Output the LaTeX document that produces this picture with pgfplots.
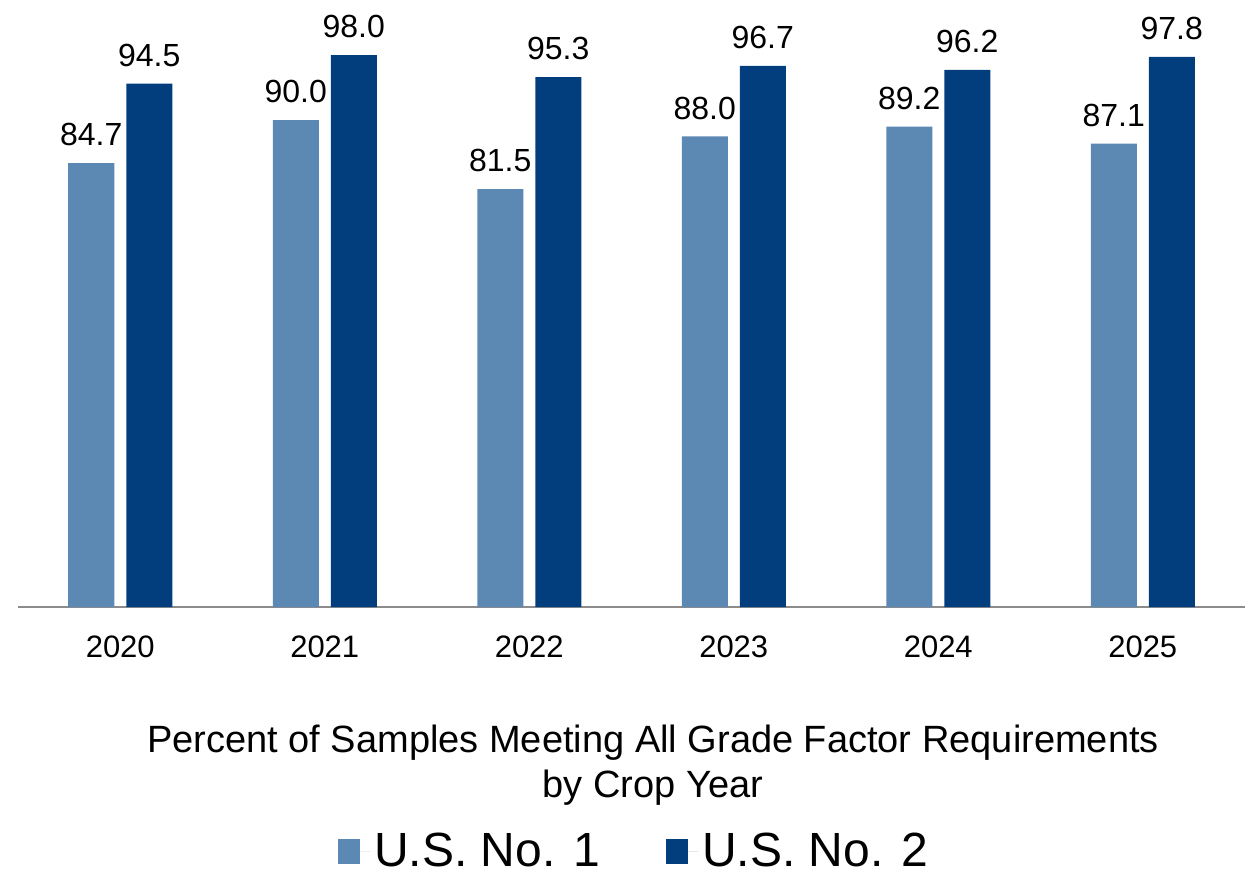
\documentclass[border=0pt]{standalone}
\usepackage{fontspec}
\setmainfont{Liberation Sans}
\usepackage{pgfplots}
\pgfplotsset{compat=1.18}
\definecolor{usone}{HTML}{5B89B4}
\definecolor{ustwo}{HTML}{023E7D}
\definecolor{axisgray}{HTML}{8C8C8C}

\begin{document}
\begin{tikzpicture}
\useasboundingbox (0,0) rectangle (622.5pt,437.5pt);
\begin{axis}[
    scale only axis,
    width=613.5pt, height=284pt,
    at={(9pt,134pt)}, anchor=south west,
    ybar=6pt, bar width=23pt,
    xmin=-0.5, xmax=5.5, ymin=30, ymax=100,
    axis x line*=bottom, axis y line=none,
    x axis line style={axisgray, line width=1pt, -},
    xtick={0,...,5},
    xticklabels={2020,2021,2022,2023,2024,2025},
    major tick length=0pt,
    xticklabel style={font=\fontsize{15.5}{18}\selectfont, yshift=-11pt},
    ytick=\empty,
    nodes near coords,
    every node near coord/.append style={font=\fontsize{16}{19}\selectfont, text=black, yshift=5pt},
    /pgf/number format/.cd, fixed, fixed zerofill, precision=1, assume math mode=true, /pgfplots/.cd,
    legend columns=2,
    legend style={at={(0.503,-0.43)}, anchor=center, draw=none, fill=none,
        font=\fontsize{24}{28}\selectfont, nodes={inner sep=2pt},
        /tikz/every even column/.append style={column sep=31pt}},
    legend image code/.code={\path (0pt,0pt) -- (16pt,0pt);
        \fill[#1] (0pt,-6.25pt) rectangle (11pt,6.25pt);},
]
\addplot[fill=usone, draw=none] coordinates {
    (0,84.7) (1,90.0) (2,81.5) (3,88.0) (4,89.2) (5,87.1)
};
\addplot[fill=ustwo, draw=none] coordinates {
    (0,94.5) (1,98.0) (2,95.3) (3,96.7) (4,96.2) (5,97.8)
};
\legend{U.S. No. 1, U.S. No. 2}
\end{axis}
\node[font=\fontsize{19}{23}\selectfont, anchor=base] at (326.5pt,61.5pt)
    {Percent of Samples Meeting All Grade Factor Requirements};
\node[font=\fontsize{19}{23}\selectfont, anchor=base] at (326.5pt,39pt)
    {by Crop Year};
\end{tikzpicture}
\end{document}
